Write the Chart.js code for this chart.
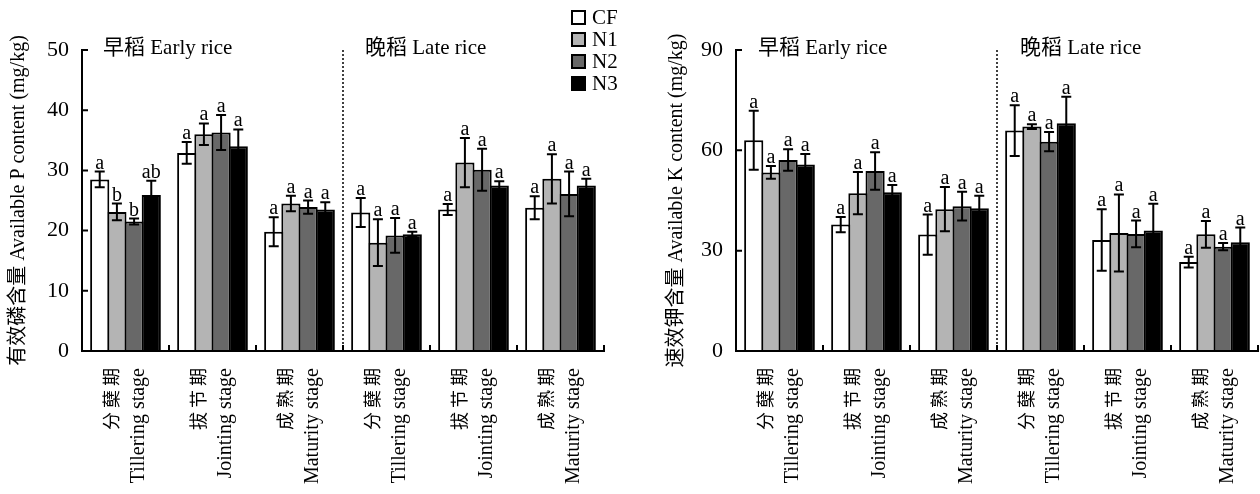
<!DOCTYPE html>
<html><head><meta charset="utf-8">
<script src="https://cdn.jsdelivr.net/npm/chart.js@4.4.1/dist/chart.umd.min.js"></script>
<style>
html,body{margin:0;padding:0;background:#fff;width:1260px;height:494px;overflow:hidden}
#l{position:absolute;left:0;top:0;width:630px;height:494px}
#r{position:absolute;left:654px;top:0;width:606px;height:494px}
</style></head><body>
<div id="l"><canvas id="cl" width="630" height="494"></canvas></div>
<div id="r"><canvas id="cr" width="606" height="494"></canvas></div>
<script>
// ---------- data ----------
const categories = [
  ['分 蘖 期','Tillering stage'], ['拔 节 期','Jointing stage'], ['成 熟 期','Maturity stage'],
  ['分 蘖 期','Tillering stage'], ['拔 节 期','Jointing stage'], ['成 熟 期','Maturity stage']
];
const seasonLabels = ['早稻 Early rice', '晚稻 Late rice'];
const seriesNames = ['CF', 'N1', 'N2', 'N3'];

// Available P (mg/kg)
const pCF = [28.5, 32.9, 19.8, 23.0, 23.5, 23.8];
const pN1 = [23.1, 36.0, 24.5, 18.0, 31.3, 28.6];
const pN2 = [21.5, 36.3, 23.9, 19.2, 30.1, 26.1];
const pN3 = [25.9, 34.0, 23.5, 19.4, 27.5, 27.5];
const pErrCF = [1.3, 1.8, 2.4, 2.4, 0.9, 1.9];
const pErrN1 = [1.4, 1.8, 1.3, 3.9, 4.1, 4.1];
const pErrN2 = [0.5, 2.9, 1.1, 2.9, 3.5, 3.7];
const pErrN3 = [2.4, 2.8, 1.2, 0.4, 0.7, 1.1];
const pSigCF = ['a', 'a', 'a', 'a', 'a', 'a'];
const pSigN1 = ['b', 'a', 'a', 'a', 'a', 'a'];
const pSigN2 = ['b', 'a', 'a', 'a', 'a', 'a'];
const pSigN3 = ['ab', 'a', 'a', 'a', 'a', 'a'];
const pTicks = [0, 10, 20, 30, 40, 50];

// Available K (mg/kg)
const kCF = [63.0, 37.8, 34.8, 65.9, 33.2, 26.6];
const kN1 = [53.4, 47.2, 42.4, 67.1, 35.3, 34.9];
const kN2 = [57.1, 53.8, 43.3, 62.6, 35.0, 31.2];
const kN3 = [55.8, 47.5, 42.7, 68.1, 36.0, 32.5];
const kErrCF = [8.8, 2.3, 6.0, 7.6, 9.2, 1.6];
const kErrN1 = [1.9, 6.3, 6.6, 0.7, 11.5, 4.0];
const kErrN2 = [3.2, 5.6, 4.3, 2.9, 4.0, 1.1];
const kErrN3 = [3.1, 2.1, 3.7, 7.9, 8.0, 4.4];
const kSigCF = ['a', 'a', 'a', 'a', 'a', 'a'];
const kSigN1 = ['a', 'a', 'a', 'a', 'a', 'a'];
const kSigN2 = ['a', 'a', 'a', 'a', 'a', 'a'];
const kSigN3 = ['a', 'a', 'a', 'a', 'a', 'a'];
const kTicks = [0, 30, 60, 90];

// ---------- styles ----------
const fills = ['#ffffff', '#b4b4b4', '#686868', '#000000'];
const SERIF = '"Liberation Serif", "Noto Sans CJK SC", serif';

const decor = {
  id: 'decor',
  afterDatasetsDraw(chart, args, o) {
    const ctx = chart.ctx, y = chart.scales.y;
    ctx.save();
    chart.data.datasets.forEach((ds, di) => {
      const meta = chart.getDatasetMeta(di);
      meta.data.forEach((bar, i) => {
        const v = ds.data[i], e = ds.err[i];
        const yt = y.getPixelForValue(v + e), yb = y.getPixelForValue(v - e);
        ctx.strokeStyle = '#000'; ctx.lineWidth = 2; ctx.setLineDash([]);
        ctx.beginPath();
        ctx.moveTo(bar.x, yt); ctx.lineTo(bar.x, yb);
        ctx.moveTo(bar.x - 5, yt); ctx.lineTo(bar.x + 5, yt);
        ctx.moveTo(bar.x - 5, yb); ctx.lineTo(bar.x + 5, yb);
        ctx.stroke();
        ctx.fillStyle = '#000';
        ctx.font = '20px ' + SERIF;
        ctx.textAlign = 'center'; ctx.textBaseline = 'alphabetic';
        ctx.fillText(ds.sig[i], bar.x, yt - 3);
      });
    });
    ctx.restore();
  },
  afterDraw(chart, args, o) {
    const ctx = chart.ctx, x = chart.scales.x, y = chart.scales.y, ca = chart.chartArea;
    const half = (x.getPixelForValue(1) - x.getPixelForValue(0)) / 2;
    ctx.save();
    ctx.strokeStyle = '#000'; ctx.lineWidth = 2;
    // x axis line on top of bars
    ctx.beginPath(); ctx.moveTo(ca.left - 1, ca.bottom); ctx.lineTo(ca.right, ca.bottom); ctx.stroke();
    // inward ticks
    ctx.beginPath();
    y.ticks.forEach(t => {
      if (t.value === 0) return;
      const py = y.getPixelForValue(t.value);
      ctx.moveTo(ca.left, py); ctx.lineTo(ca.left + 6, py);
    });
    for (let i = 0; i < categories.length; i++) {
      const px = x.getPixelForValue(i) + half;
      ctx.moveTo(px, ca.bottom); ctx.lineTo(px, ca.bottom - 6);
    }
    ctx.stroke();
    // dotted separator between seasons
    const sepX = x.getPixelForValue(2) + half;
    ctx.lineWidth = 1.5; ctx.setLineDash([2, 2]);
    ctx.beginPath(); ctx.moveTo(sepX, ca.top); ctx.lineTo(sepX, ca.bottom); ctx.stroke();
    ctx.setLineDash([]);
    // season labels
    ctx.fillStyle = '#000';
    ctx.font = '21px ' + SERIF;
    ctx.textAlign = 'left'; ctx.textBaseline = 'middle';
    ctx.fillText(seasonLabels[0], ca.left + o.earlyOff, 48);
    ctx.fillText(seasonLabels[1], sepX + o.lateOff, 48);
    // x category labels, rotated
    categories.forEach((lab, i) => {
      const cx = x.getPixelForValue(i);
      ctx.save();
      ctx.translate(cx - 14, ca.bottom + 17);
      ctx.rotate(-Math.PI / 2);
      ctx.textAlign = 'right'; ctx.textBaseline = 'middle';
      ctx.font = '18px "Noto Sans CJK SC", ' + SERIF;
      ctx.fillText(lab[0], 0, 0);
      ctx.restore();
      ctx.save();
      ctx.translate(cx + 13, ca.bottom + 17);
      ctx.rotate(-Math.PI / 2);
      ctx.textAlign = 'right'; ctx.textBaseline = 'middle';
      ctx.font = '20px ' + SERIF;
      ctx.fillText(lab[1], 0, 0);
      ctx.restore();
    });
    // legend
    if (o.legend) {
      chart.data.datasets.forEach((ds, di) => {
        const cy = 17 + di * 22;
        ctx.fillStyle = ds.backgroundColor;
        ctx.fillRect(571, cy - 7, 15, 15);
        ctx.strokeStyle = '#000'; ctx.lineWidth = 2;
        ctx.strokeRect(572, cy - 6, 13, 13);
        ctx.fillStyle = '#000';
        ctx.font = '21px ' + SERIF;
        ctx.textAlign = 'left'; ctx.textBaseline = 'middle';
        ctx.fillText(ds.label, 592, cy + 1);
      });
    }
    ctx.restore();
  }
};

function makeChart(id, vals, errs, sigs, ticks, title, padRight, titlePad, offs, legend) {
  const datasets = seriesNames.map((n, k) => ({
    label: n, data: vals[k], err: errs[k], sig: sigs[k],
    backgroundColor: fills[k], borderColor: '#000', borderWidth: 2,
    categoryPercentage: 0.79, barPercentage: 1.116
  }));
  return new Chart(document.getElementById(id), {
    type: 'bar',
    data: { labels: categories.map((c, i) => c[1] + ' ' + i), datasets },
    options: {
      responsive: false, animation: false, devicePixelRatio: 1,
      layout: { padding: { top: 50, right: padRight, left: 0, bottom: 0 } },
      plugins: { legend: { display: false }, tooltip: { enabled: false },
        decor: { legend, earlyOff: offs[0], lateOff: offs[1] } },
      scales: {
        x: {
          grid: { display: false }, ticks: { display: false },
          border: { display: true, color: '#000', width: 2 },
          afterFit: s => { s.height = 143; }
        },
        y: {
          min: ticks[0], max: ticks[ticks.length - 1],
          afterBuildTicks: s => { s.ticks = ticks.map(v => ({ value: v })); },
          grid: { display: false, drawTicks: false },
          border: { display: true, color: '#000', width: 2 },
          ticks: { color: '#000', padding: 13, font: { family: SERIF, size: 22 } },
          title: { display: true, text: title, color: '#000',
            font: { family: SERIF, size: 20 }, padding: { top: titlePad, bottom: 0 } },
          afterFit: s => { s.width = 82; }
        }
      }
    },
    plugins: [decor]
  });
}

makeChart('cl', [pCF, pN1, pN2, pN3], [pErrCF, pErrN1, pErrN2, pErrN3],
  [pSigCF, pSigN1, pSigN2, pSigN3], pTicks,
  '有效磷含量 Available P content (mg/kg)', 26, 7, [21, 22], true);
makeChart('cr', [kCF, kN1, kN2, kN3], [kErrCF, kErrN1, kErrN2, kErrN3],
  [kSigCF, kSigN1, kSigN2, kSigN3], kTicks,
  '速效钾含量 Available K content (mg/kg)', 2, 11, [22, 23], false);
</script>
</body></html>
